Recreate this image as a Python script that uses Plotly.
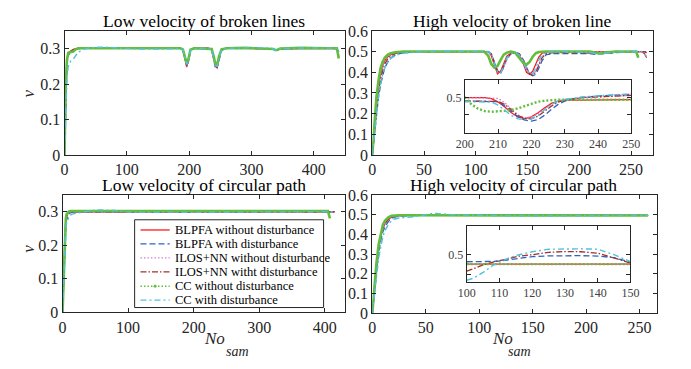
import plotly.graph_objects as go

W, H = 691, 369

# ---------------- data ----------------
series_names = ["BLPFA without disturbance", "BLPFA with disturbance",
                "ILOS+NN without disturbance", "ILOS+NN witht disturbance",
                "CC without disturbance", "CC with disturbance"]

# Low velocity of broken lines
x_tl = [0, 2, 4, 6, 8, 10, 14, 18, 22, 30, 40, 55, 70, 90, 120, 160, 186, 190, 193, 196,
        199, 202, 208, 230, 236, 239, 242, 245, 248, 252, 260, 290, 330, 335, 338, 341, 346,
        380, 420, 437, 440]
red_tl = [0, 0.2, 0.27, 0.285, 0.29, 0.293, 0.297, 0.3, 0.301, 0.301, 0.302, 0.302, 0.302, 0.301,
          0.301, 0.301, 0.301, 0.296, 0.27, 0.25, 0.268, 0.297, 0.301, 0.301, 0.298, 0.275, 0.25,
          0.248, 0.278, 0.298, 0.301, 0.301, 0.301, 0.299, 0.295, 0.296, 0.3, 0.301, 0.301, 0.3, 0.275]
blue_tl = [0, 0.18, 0.26, 0.28, 0.288, 0.292, 0.296, 0.299, 0.3, 0.301, 0.301, 0.302, 0.302, 0.301,
           0.3, 0.301, 0.301, 0.298, 0.275, 0.252, 0.265, 0.292, 0.301, 0.301, 0.299, 0.28, 0.252,
           0.247, 0.27, 0.295, 0.301, 0.301, 0.301, 0.3, 0.296, 0.296, 0.299, 0.301, 0.301, 0.3, 0.29]
mag_tl = [0, 0.2, 0.27, 0.285, 0.29, 0.293, 0.297, 0.3, 0.301, 0.301, 0.302, 0.302, 0.302, 0.301,
          0.301, 0.301, 0.301, 0.296, 0.268, 0.245, 0.265, 0.296, 0.301, 0.301, 0.298, 0.272, 0.245,
          0.244, 0.275, 0.298, 0.301, 0.301, 0.301, 0.299, 0.295, 0.296, 0.3, 0.301, 0.301, 0.3, 0.28]
dred_tl = [0, 0.19, 0.27, 0.284, 0.29, 0.293, 0.297, 0.3, 0.301, 0.301, 0.302, 0.302, 0.302, 0.301,
           0.301, 0.301, 0.301, 0.297, 0.272, 0.25, 0.266, 0.296, 0.301, 0.301, 0.298, 0.276, 0.25,
           0.247, 0.276, 0.298, 0.301, 0.301, 0.301, 0.299, 0.295, 0.296, 0.3, 0.301, 0.301, 0.3, 0.28]
green_tl = [0, 0.2, 0.27, 0.288, 0.29, 0.291, 0.292, 0.298, 0.301, 0.301, 0.301, 0.301, 0.302, 0.301,
            0.301, 0.301, 0.301, 0.297, 0.275, 0.258, 0.272, 0.297, 0.301, 0.301, 0.299, 0.28, 0.257,
            0.255, 0.279, 0.298, 0.301, 0.302, 0.301, 0.299, 0.296, 0.296, 0.3, 0.302, 0.301, 0.301, 0.272]
cyan_tl = [0, 0.15, 0.22, 0.25, 0.26, 0.265, 0.27, 0.28, 0.29, 0.298, 0.302, 0.304, 0.304, 0.301,
           0.299, 0.299, 0.3, 0.297, 0.275, 0.255, 0.268, 0.295, 0.3, 0.301, 0.299, 0.278, 0.252,
           0.25, 0.275, 0.297, 0.301, 0.302, 0.302, 0.299, 0.295, 0.296, 0.3, 0.302, 0.302, 0.301, 0.29]

# High velocity of broken line
x_tr = [0, 2, 4, 6, 8, 10, 12, 15, 18, 22, 26, 30, 40, 60, 80, 100, 108, 112, 115, 118,
        121, 124, 127, 130, 134, 138, 142, 146, 149, 152, 155, 158, 161, 164, 168, 175, 190, 205,
        210, 215, 220, 225, 235, 250, 255, 257, 260, 263, 265]
red_tr = [0, 0.12, 0.25, 0.33, 0.39, 0.43, 0.455, 0.475, 0.485, 0.492, 0.496, 0.498, 0.5, 0.5, 0.5,
          0.5, 0.5, 0.5, 0.48, 0.43, 0.392, 0.405, 0.445, 0.478, 0.493, 0.495, 0.48, 0.44, 0.4, 0.39,
          0.405, 0.44, 0.475, 0.492, 0.498, 0.5, 0.5, 0.5, 0.5, 0.5, 0.5, 0.5, 0.5, 0.5, 0.5, 0.5,
          0.5, 0.49, 0.47]
blue_tr = [0, 0.1, 0.2, 0.28, 0.34, 0.385, 0.42, 0.45, 0.47, 0.482, 0.49, 0.494, 0.498, 0.5, 0.5,
           0.5, 0.5, 0.5, 0.49, 0.45, 0.405, 0.395, 0.425, 0.465, 0.49, 0.495, 0.49, 0.46, 0.42, 0.39,
           0.383, 0.39, 0.42, 0.455, 0.485, 0.49, 0.49, 0.492, 0.49, 0.487, 0.487, 0.49, 0.495, 0.5,
           0.5, 0.5, 0.5, 0.5, 0.495]
mag_tr = [0, 0.12, 0.25, 0.33, 0.39, 0.43, 0.455, 0.475, 0.485, 0.492, 0.496, 0.498, 0.5, 0.5, 0.5,
          0.5, 0.5, 0.5, 0.49, 0.45, 0.41, 0.395, 0.42, 0.46, 0.488, 0.495, 0.49, 0.46, 0.42, 0.395,
          0.39, 0.405, 0.44, 0.475, 0.495, 0.5, 0.5, 0.5, 0.5, 0.5, 0.5, 0.5, 0.5, 0.5, 0.5, 0.5,
          0.5, 0.5, 0.495]
dred_tr = [0, 0.11, 0.23, 0.31, 0.37, 0.41, 0.44, 0.465, 0.48, 0.49, 0.494, 0.497, 0.5, 0.5, 0.5,
           0.5, 0.5, 0.5, 0.488, 0.445, 0.405, 0.398, 0.43, 0.468, 0.49, 0.495, 0.488, 0.455, 0.415,
           0.392, 0.388, 0.4, 0.435, 0.47, 0.49, 0.495, 0.495, 0.495, 0.495, 0.492, 0.49, 0.493,
           0.497, 0.5, 0.5, 0.5, 0.5, 0.5, 0.495]
green_tr = [0, 0.15, 0.28, 0.36, 0.42, 0.45, 0.47, 0.485, 0.492, 0.497, 0.499, 0.5, 0.5, 0.5, 0.5,
            0.5, 0.5, 0.48, 0.44, 0.422, 0.43, 0.46, 0.485, 0.495, 0.5, 0.495, 0.47, 0.445, 0.437,
            0.45, 0.475, 0.492, 0.498, 0.5, 0.5, 0.5, 0.5, 0.5, 0.5, 0.495, 0.49, 0.495, 0.5, 0.5,
            0.5, 0.47, None, None, None]
cyan_tr = [0, 0.1, 0.2, 0.28, 0.34, 0.39, 0.42, 0.45, 0.468, 0.48, 0.488, 0.492, 0.497, 0.502, 0.5,
           0.5, 0.5, 0.5, 0.485, 0.44, 0.4, 0.395, 0.43, 0.47, 0.49, 0.495, 0.485, 0.45, 0.41, 0.395,
           0.395, 0.42, 0.46, 0.485, 0.495, 0.5, 0.5, 0.498, 0.495, 0.49, 0.488, 0.492, 0.497, 0.5,
           0.5, 0.5, 0.5, 0.49, 0.475]

# Low velocity of circular path
x_bl = [0, 1, 2, 3, 4, 5, 6, 8, 10, 12, 15, 20, 25, 30, 40, 50, 60, 70, 80, 90, 100, 130, 160,
        200, 240, 280, 320, 360, 400, 405, 408, 410, 415]
red_bl = [0, 0.08, 0.15, 0.21, 0.25, 0.275, 0.287, 0.295, 0.298, 0.3, 0.3, 0.3, 0.301, 0.301, 0.301,
          0.301, 0.301, 0.301, 0.301, 0.301, 0.3, 0.3, 0.3, 0.3, 0.3, 0.3, 0.3, 0.3, 0.3, 0.3, 0.3,
          0.3, 0.3]
blue_bl = [0, 0.06, 0.13, 0.19, 0.23, 0.26, 0.275, 0.288, 0.294, 0.297, 0.299, 0.3, 0.3, 0.3, 0.301,
           0.301, 0.301, 0.301, 0.3, 0.3, 0.3, 0.3, 0.3, 0.3, 0.3, 0.3, 0.3, 0.3, 0.3, 0.3, 0.3,
           0.3, 0.3]
mag_bl = [0, 0.08, 0.15, 0.21, 0.25, 0.275, 0.287, 0.295, 0.298, 0.3, 0.3, 0.3, 0.301, 0.301, 0.301,
          0.301, 0.301, 0.301, 0.301, 0.301, 0.3, 0.3, 0.3, 0.3, 0.3, 0.3, 0.3, 0.3, 0.3, 0.3, 0.3,
          0.3, 0.3]
dred_bl = [0, 0.07, 0.14, 0.2, 0.245, 0.27, 0.285, 0.294, 0.298, 0.3, 0.3, 0.3, 0.301, 0.301, 0.301,
           0.301, 0.301, 0.301, 0.301, 0.301, 0.3, 0.3, 0.3, 0.3, 0.3, 0.3, 0.3, 0.3, 0.3, 0.3, 0.3,
           0.3, 0.3]
green_bl = [0, 0.07, 0.15, 0.22, 0.26, 0.28, 0.292, 0.298, 0.301, 0.302, 0.302, 0.302, 0.302, 0.302,
            0.302, 0.302, 0.302, 0.302, 0.302, 0.302, 0.302, 0.302, 0.302, 0.302, 0.302, 0.302,
            0.302, 0.302, 0.302, 0.302, 0.28, None, None]
cyan_bl = [0, 0.05, 0.12, 0.18, 0.22, 0.25, 0.265, 0.278, 0.285, 0.29, 0.293, 0.295, 0.297, 0.299,
           0.303, 0.305, 0.305, 0.305, 0.304, 0.302, 0.299, 0.298, 0.299, 0.298, 0.298, 0.298,
           0.298, 0.298, 0.299, 0.3, 0.3, 0.3, 0.301]

# High velocity of circular path
x_br = [0, 1, 2, 4, 6, 8, 10, 12, 15, 18, 21, 25, 30, 35, 40, 45, 50, 55, 60, 65, 70, 80, 100,
        120, 140, 160, 180, 200, 220, 240, 258]
red_br = [0, 0.06, 0.12, 0.24, 0.33, 0.39, 0.43, 0.455, 0.475, 0.487, 0.492, 0.495, 0.496, 0.497,
          0.497, 0.497, 0.497, 0.497, 0.497, 0.497, 0.497, 0.497, 0.496, 0.496, 0.496, 0.496, 0.496,
          0.496, 0.496, 0.496, 0.496]
blue_br = [0, 0.055, 0.11, 0.22, 0.31, 0.37, 0.415, 0.44, 0.465, 0.48, 0.488, 0.492, 0.494, 0.495,
           0.496, 0.497, 0.498, 0.5, 0.501, 0.5, 0.499, 0.497, 0.497, 0.498, 0.497, 0.497, 0.497,
           0.497, 0.497, 0.497, 0.497]
mag_br = [0, 0.06, 0.12, 0.24, 0.33, 0.39, 0.43, 0.455, 0.475, 0.487, 0.492, 0.495, 0.496, 0.497,
          0.497, 0.497, 0.497, 0.497, 0.497, 0.497, 0.497, 0.497, 0.496, 0.496, 0.496, 0.496, 0.496,
          0.496, 0.496, 0.496, 0.496]
dred_br = [0, 0.065, 0.13, 0.25, 0.34, 0.4, 0.44, 0.46, 0.478, 0.488, 0.493, 0.495, 0.496, 0.497,
           0.497, 0.497, 0.498, 0.499, 0.5, 0.499, 0.498, 0.497, 0.497, 0.497, 0.497, 0.497, 0.497,
           0.497, 0.497, 0.497, 0.497]
green_br = [0, 0.07, 0.14, 0.26, 0.35, 0.41, 0.45, 0.47, 0.487, 0.494, 0.496, 0.497, 0.497, 0.497,
            0.497, 0.497, 0.497, 0.497, 0.497, 0.497, 0.497, 0.497, 0.496, 0.496, 0.496, 0.496,
            0.496, 0.496, 0.496, 0.496, 0.496]
cyan_br = [0, 0.05, 0.1, 0.2, 0.28, 0.34, 0.39, 0.42, 0.45, 0.468, 0.478, 0.483, 0.485, 0.487, 0.49,
           0.495, 0.5, 0.505, 0.506, 0.505, 0.502, 0.498, 0.496, 0.497, 0.495, 0.493, 0.494, 0.496,
           0.495, 0.495, 0.497]

# Inset of high velocity broken line
x_in1 = [200, 202, 204, 206, 208, 210, 212, 214, 216, 218, 220, 222, 224, 226, 228, 230, 235,
         240, 245, 250]
red_in1 = [0.5, 0.5, 0.5, 0.5, 0.497, 0.487, 0.472, 0.455, 0.442, 0.438, 0.443, 0.455, 0.47,
           0.483, 0.49, 0.493, 0.493, 0.494, 0.494, 0.494]
blue_in1 = [0.49, 0.49, 0.49, 0.49, 0.49, 0.488, 0.475, 0.458, 0.443, 0.433, 0.43, 0.435, 0.448,
            0.465, 0.48, 0.49, 0.5, 0.505, 0.508, 0.51]
mag_in1 = [0.5, 0.5, 0.5, 0.5, 0.5, 0.498, 0.485, 0.465, 0.448, 0.44, 0.442, 0.452, 0.466, 0.48,
           0.49, 0.495, 0.5, 0.503, 0.505, 0.507]
dred_in1 = [0.49, 0.49, 0.49, 0.49, 0.49, 0.489, 0.48, 0.463, 0.447, 0.438, 0.437, 0.445, 0.46,
            0.475, 0.487, 0.493, 0.5, 0.503, 0.505, 0.507]
green_in1 = [0.502, 0.48, 0.467, 0.46, 0.458, 0.459, 0.461, 0.464, 0.468, 0.475, 0.482, 0.488,
             0.491, 0.493, 0.494, 0.494, 0.494, 0.494, 0.494, 0.494]
cyan_in1 = [0.488, 0.488, 0.488, 0.488, 0.487, 0.478, 0.462, 0.447, 0.437, 0.434, 0.437, 0.447,
            0.465, 0.48, 0.49, 0.495, 0.502, 0.506, 0.509, 0.511]

# Inset of high velocity circular path
x_in2 = [100, 102, 105, 108, 110, 113, 116, 120, 125, 130, 135, 140, 145, 150]
red_in2 = [0.4952, 0.4952, 0.4952, 0.4952, 0.4952, 0.4952, 0.4952, 0.4952, 0.4952, 0.4952, 0.4952,
           0.4952, 0.4952, 0.4952]
blue_in2 = [0.4964, 0.4964, 0.4965, 0.4966, 0.4968, 0.4975, 0.4982, 0.499, 0.4994, 0.4995, 0.4995,
            0.4993, 0.4985, 0.4962]
mag_in2 = [0.4952, 0.4952, 0.4952, 0.4952, 0.4952, 0.4952, 0.4952, 0.4952, 0.4952, 0.4952, 0.4952,
           0.4952, 0.4952, 0.4952]
dred_in2 = [0.4916, 0.493, 0.4948, 0.4962, 0.497, 0.498, 0.4993, 0.5, 0.5012, 0.5016, 0.5015,
            0.5008, 0.4985, 0.4958]
green_in2 = [0.4952, 0.4952, 0.4952, 0.4952, 0.4952, 0.4952, 0.4952, 0.4952, 0.4952, 0.4952,
             0.4952, 0.4952, 0.4952, 0.4952]
cyan_in2 = [0.487, 0.488, 0.491, 0.4945, 0.4962, 0.4985, 0.5, 0.5015, 0.5028, 0.503, 0.503, 0.5028,
            0.5, 0.4965]

titles = ["Low velocity of broken lines", "High velocity of broken line",
          "Low velocity of circular path", "High velocity of circular path"]

# ---------------- styles ----------------
colors = ["#FF1A1A", "#2F62C0", "#D27BD6", "#A3302A", "#62BE3A", "#4DC3E0"]
dashes = ["solid", "6px,3px", "1.5px,2px", "6px,2px,1.5px,2px", "solid", "6px,3px,2px,3px"]
widths = [1.3, 1.3, 1.3, 1.3, 2.6, 1.4]
FONT = "Liberation Serif"
AX = "#262626"

fig = go.Figure()

panels = [
    ("x", "y", x_tl, [red_tl, blue_tl, mag_tl, dred_tl, green_tl, cyan_tl]),
    ("x2", "y2", x_tr, [red_tr, blue_tr, mag_tr, dred_tr, green_tr, cyan_tr]),
    ("x3", "y3", x_bl, [red_bl, blue_bl, mag_bl, dred_bl, green_bl, cyan_bl]),
    ("x4", "y4", x_br, [red_br, blue_br, mag_br, dred_br, green_br, cyan_br]),
    ("x5", "y5", x_in1, [red_in1, blue_in1, mag_in1, dred_in1, green_in1, cyan_in1]),
    ("x6", "y6", x_in2, [red_in2, blue_in2, mag_in2, dred_in2, green_in2, cyan_in2]),
]
for pi, (xa, ya, xs, ys) in enumerate(panels):
    inset = pi >= 4
    for k, yv in enumerate(ys):
        dash = dashes[k]
        w = widths[k]
        if k == 4 and inset:
            dash = "2px,2px"
            w = 2.4
        fig.add_trace(go.Scatter(x=xs, y=yv, xaxis=xa, yaxis=ya, mode="lines",
                                 name=series_names[k], showlegend=False,
                                 line=dict(color=colors[k], width=w, dash=dash),
                                 connectgaps=False, hoverinfo="skip"))


def px_dom(a, b, total):
    return [a / total, b / total]


def py_dom(top, bottom):
    return [1 - bottom / H, 1 - top / H]


def ax_style(size=16, color=AX):
    return dict(showline=True, linecolor=AX, linewidth=1, mirror="ticks", ticks="inside",
                ticklen=4, tickcolor=AX, showgrid=False, zeroline=False,
                tickfont=dict(family=FONT, size=size, color=color))


lay = dict(width=W, height=H, margin=dict(l=0, r=0, t=0, b=0),
           paper_bgcolor="white", plot_bgcolor="white", showlegend=False)

lay["xaxis"] = dict(ax_style(), domain=px_dom(57, 345, W), range=[0, 450], anchor="y",
                    tickvals=[0, 100, 200, 300, 400])
lay["yaxis"] = dict(ax_style(), domain=py_dom(24, 154), range=[0, 0.35], anchor="x",
                    tickvals=[0, 0.1, 0.2, 0.3])
lay["xaxis2"] = dict(ax_style(), domain=px_dom(373, 661, W), range=[0, 271], anchor="y2",
                     tickvals=[0, 50, 100, 150, 200, 250])
lay["yaxis2"] = dict(ax_style(), domain=py_dom(24, 154), range=[0, 0.6], anchor="x2",
                     tickvals=[0, 0.1, 0.2, 0.3, 0.4, 0.5, 0.6])
lay["xaxis3"] = dict(ax_style(), domain=px_dom(55, 345, W), range=[0, 431], anchor="y3",
                     tickvals=[0, 100, 200, 300, 400])
lay["yaxis3"] = dict(ax_style(), domain=py_dom(196, 319), range=[0, 0.35], anchor="x3",
                     tickvals=[0, 0.1, 0.2, 0.3])
lay["xaxis4"] = dict(ax_style(), domain=px_dom(373, 665, W), range=[0, 266], anchor="y4",
                     tickvals=[0, 50, 100, 150, 200, 250])
lay["yaxis4"] = dict(ax_style(), domain=py_dom(196, 320), range=[0, 0.6], anchor="x4",
                     tickvals=[0, 0.1, 0.2, 0.3, 0.4, 0.5, 0.6])
lay["xaxis5"] = dict(ax_style(12, "#404040"), domain=px_dom(468, 639, W), range=[200, 250],
                     anchor="y5", tickvals=[200, 210, 220, 230, 240, 250])
lay["yaxis5"] = dict(ax_style(12, "#404040"), domain=py_dom(75, 131), range=[0.395, 0.554],
                     anchor="x5", tickvals=[0.5],
                     minor=dict(tickvals=[0.45], ticks="inside", ticklen=4, tickcolor=AX,
                                showgrid=False))
lay["xaxis6"] = dict(ax_style(12, "#404040"), domain=px_dom(470, 638, W), range=[100, 150],
                     anchor="y6", tickvals=[100, 110, 120, 130, 140, 150])
lay["yaxis6"] = dict(ax_style(12, "#404040"), domain=py_dom(229, 287), range=[0.4862, 0.5144],
                     anchor="x6", tickvals=[0.5],
                     minor=dict(tickvals=[0.49], ticks="inside", ticklen=4, tickcolor=AX,
                                showgrid=False))

annotations = []
shapes = []
title_pos = [(200, 14), (517, 14), (200, 185.5), (518, 185.5)]
for t, (tx, ty) in zip(titles, title_pos):
    annotations.append(dict(text=t, x=tx / W, y=1 - ty / H, xref="paper", yref="paper",
                            showarrow=False, xanchor="center", yanchor="middle",
                            font=dict(family=FONT, size=17.5, color="black")))
for vy in (89, 252):
    annotations.append(dict(text="<i>v</i>", x=20 / W, y=1 - vy / H, xref="paper", yref="paper",
                            showarrow=False, textangle=-90, xanchor="center", yanchor="middle",
                            font=dict(family=FONT, size=17, color=AX)))
for nx, sx in ((211, 235), (506.5, 524.5)):
    annotations.append(dict(text="<i>No</i>", x=nx / W, y=1 - 346 / H,
                            xref="paper", yref="paper", showarrow=False, xanchor="center",
                            yanchor="middle", font=dict(family=FONT, size=17, color=AX)))
    annotations.append(dict(text="<i>sam</i>", x=sx / W, y=1 - 360 / H,
                            xref="paper", yref="paper", showarrow=False, xanchor="center",
                            yanchor="middle", font=dict(family=FONT, size=14, color=AX)))

# legend box (drawn manually to match compact spacing)
shapes.append(dict(type="rect", xref="paper", yref="paper", x0=129 / W, x1=323 / W,
                   y0=1 - 314 / H, y1=1 - 222 / H, line=dict(color=AX, width=1),
                   fillcolor="white", layer="above"))
row_y = [232.7, 247.3, 262, 276.7, 291.7, 306.3]
leg_dash = ["solid", "6px,3px", "1.5px,2px", "6px,2px,1.5px,2px", "1.5px,2px", "6px,3px,2px,3px"]
for k, ry in enumerate(row_y):
    shapes.append(dict(type="line", xref="paper", yref="paper", x0=135 / W, x1=165 / W,
                       y0=1 - ry / H, y1=1 - ry / H, layer="above",
                       line=dict(color=colors[k], width=1.3, dash=leg_dash[k])))
    annotations.append(dict(text=series_names[k], x=168 / W, y=1 - ry / H, xref="paper",
                            yref="paper", showarrow=False, xanchor="left", yanchor="middle",
                            font=dict(family=FONT, size=12.5, color="black")))
shapes.append(dict(type="circle", xref="paper", yref="paper", x0=148.5 / W, x1=151.5 / W,
                   y0=1 - (row_y[4] + 1.5) / H, y1=1 - (row_y[4] - 1.5) / H, layer="above",
                   fillcolor=colors[4], line=dict(color=colors[4], width=0)))

lay["annotations"] = annotations
lay["shapes"] = shapes
fig.update_layout(**lay)
fig.write_html("out.html")
